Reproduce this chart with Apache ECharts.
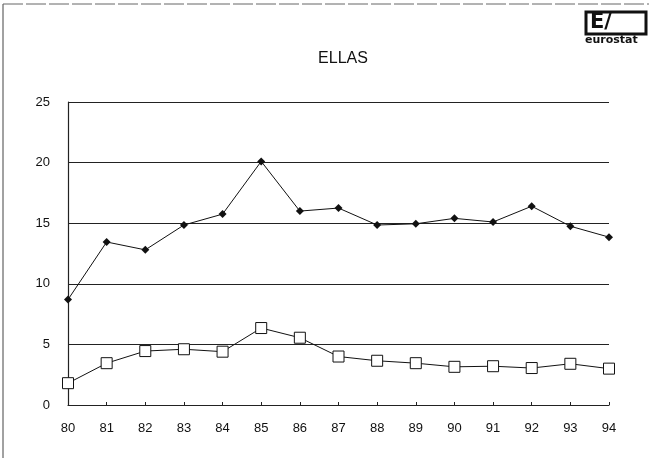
<!DOCTYPE html>
<html lang="en">
<head>
    <meta charset="UTF-8">
    <title>ELLAS</title>
    <script src="https://cdn.jsdelivr.net/npm/echarts@6/dist/echarts.min.js"></script>
    <style>
        *{
            padding:0;
            margin:0;
        }
        html,body{
            height:100%;
            background:#fff;
        }
        #main{
            width:649px;
            height:458px;
        }
    </style>
</head>
<body>
<div id="main"></div>
<script>
    var years = ['80','81','82','83','84','85','86','87','88','89','90','91','92','93','94'];
    var upper = [8.7, 13.45, 12.8, 14.85, 15.75, 20.1, 16.0, 16.25, 14.85, 14.95, 15.4, 15.1, 16.4, 14.75, 13.85];
    var lower = [1.8, 3.45, 4.45, 4.6, 4.4, 6.35, 5.55, 4.0, 3.65, 3.45, 3.15, 3.2, 3.05, 3.4, 3.0];

    var myChart = echarts.init(document.getElementById('main'));
    var option = {
        backgroundColor:'#fff',
        animation:false,
        title:{
            text:'ELLAS',
            left:338,
            top:46,
            textAlign:'center',
            textStyle:{
                color:'#111',
                fontFamily:'Liberation Sans',
                fontWeight:'normal',
                fontSize:16
            }
        },
        grid:{
            left:68,
            right:40,
            top:102,
            bottom:53
        },
        xAxis:{
            type:'category',
            data:years,
            boundaryGap:false,
            axisLine:{lineStyle:{color:'#222',width:1.2}},
            axisTick:{show:true,length:3,inside:true,alignWithLabel:true,lineStyle:{color:'#222'}},
            axisLabel:{
                color:'#111',
                fontFamily:'Liberation Sans',
                fontSize:13,
                margin:17
            },
            splitLine:{show:false}
        },
        yAxis:{
            type:'value',
            min:0,
            max:25,
            interval:5,
            axisLine:{show:true,lineStyle:{color:'#222',width:1.2}},
            axisTick:{show:false},
            axisLabel:{
                color:'#111',
                fontFamily:'Liberation Sans',
                fontSize:13,
                margin:18
            },
            splitLine:{lineStyle:{color:'#222',width:1.2}}
        },
        graphic:[
            {type:'line',shape:{x1:3,y1:4,x2:3,y2:458},style:{stroke:'#444',lineWidth:1}},
            {type:'line',shape:{x1:3,y1:4,x2:649,y2:4},style:{stroke:'#666',lineWidth:1,lineDash:[20,3]}},
            {type:'rect',shape:{x:586,y:12,width:60,height:22},style:{fill:'#fff',stroke:'#111',lineWidth:3}},
            {type:'text',left:590,top:12,style:{text:'E/',fill:'#111',fontSize:21,fontWeight:'bold',fontFamily:'DejaVu Sans'}},
            {type:'text',left:585,top:35,style:{text:'eurostat',fill:'#111',fontSize:11,fontWeight:'bold',fontFamily:'DejaVu Sans'}}
        ],
        series:[
            {
                name:'upper',
                type:'line',
                data:upper,
                symbol:'diamond',
                symbolSize:8,
                lineStyle:{color:'#111',width:1},
                itemStyle:{color:'#111'}
            },
            {
                name:'lower',
                type:'line',
                data:lower,
                symbol:'rect',
                symbolSize:11,
                lineStyle:{color:'#111',width:1},
                itemStyle:{color:'#fff',borderColor:'#111',borderWidth:1}
            }
        ]
    };
    myChart.setOption(option);
</script>
</body>
</html>
